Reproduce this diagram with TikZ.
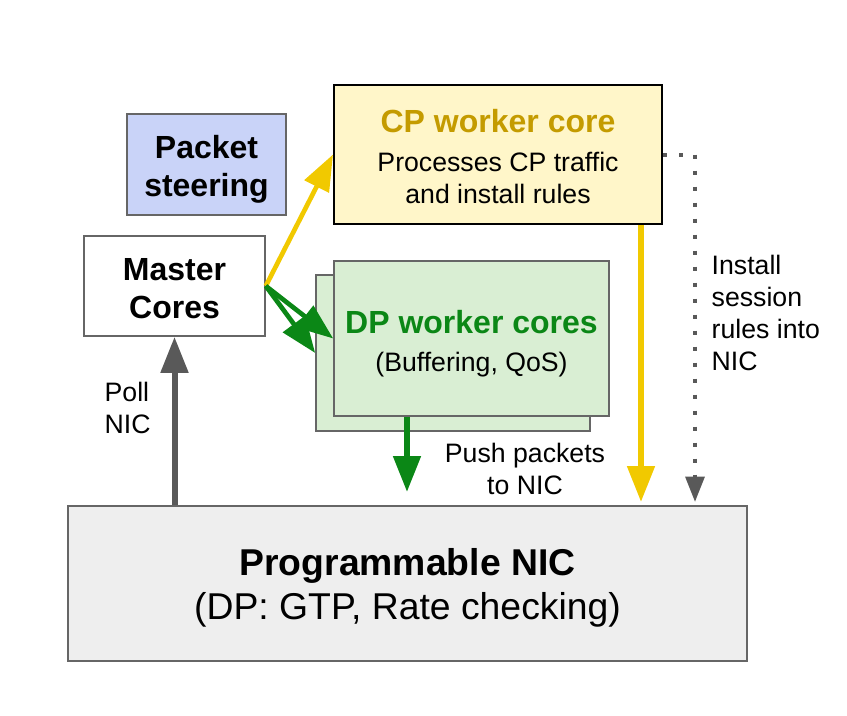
\documentclass[tikz,border=0pt]{standalone}
\usepackage{fontspec}
\setmainfont{Liberation Sans}
\usetikzlibrary{arrows.meta}
\definecolor{steerblue}{HTML}{C9D3F8}
\definecolor{cpfill}{HTML}{FFF6C9}
\definecolor{cpgold}{HTML}{C49B00}
\definecolor{dpfill}{HTML}{D9EED3}
\definecolor{dpgreen}{HTML}{0B8716}
\definecolor{nicfill}{HTML}{EEEEEE}
\definecolor{boxgray}{HTML}{666666}
\definecolor{pollgray}{HTML}{595959}
\definecolor{cpyellow}{HTML}{F1C900}
\begin{document}
\begin{tikzpicture}[x=0.75pt, y=-0.75pt,
  box/.style={rectangle, draw=boxgray, line width=1.2pt, inner sep=0pt},
  boldtxt/.style={font=\fontsize{24}{28.5}\selectfont\bfseries, align=center},
  plaintxt/.style={font=\fontsize{20}{24}\selectfont},
  bigtip/.style={-{Triangle[width=20pt, length=27pt]}},
  smalltip/.style={-{Triangle[width=14pt, length=19pt]}}]
\useasboundingbox (0,0) rectangle (847,715);
\node[box, fill=steerblue, minimum width=119.25pt, minimum height=75.75pt] (steer) at (206.5,164.5){};
\node[boldtxt] (steertxt) at (206.5,169){Packet\\steering};
\node[box, draw=black, line width=1.5pt, fill=cpfill, minimum width=246pt, minimum height=104.25pt] (cp) at (498,154.5){};
\node[boldtxt, text=cpgold] (cptitle) at (498,121){CP worker core};
\node[plaintxt, align=center] (cpbody) at (498,177.5){Processes CP traffic\\and install rules};
\node[box, fill=white, minimum width=135.75pt, minimum height=75pt] (master) at (174.5,286){};
\node[boldtxt] (mastertxt) at (174.5,288.5){Master\\Cores};
\node[box, fill=dpfill, minimum width=205.5pt, minimum height=117pt] (dpback) at (453,353){};
\node[box, fill=dpfill, minimum width=206.25pt, minimum height=116.25pt] (dpfront) at (471.5,338.5){};
\node[boldtxt, text=dpgreen] (dptitle) at (471.5,322){DP worker cores};
\node[plaintxt] (dpbody) at (471.5,364.5){(Buffering, QoS)};
\node[box, fill=nicfill, minimum width=509.25pt, minimum height=116.25pt] (nic) at (407.5,583.5){};
\node[font=\fontsize{28}{33}\selectfont\bfseries] (nictitle) at (407.5,566){Programmable NIC};
\node[font=\fontsize{28}{33}\selectfont] (nicbody) at (407.5,610){(DP: GTP, Rate checking)};
\node[plaintxt, align=left, anchor=west] (polltxt) at (100,407.5){Poll\\NIC};
\node[plaintxt, align=center] (pushtxt) at (525,469){Push packets\\to NIC};
\node[plaintxt, align=left, anchor=west] (ruletxt) at (707,313){Install\\session\\rules into\\NIC};
\coordinate (pushend) at (407,492);
\coordinate (cpend) at (641,502);
\coordinate (ruleend) at (695,502);
\draw[bigtip, pollgray, line width=4.5pt](nic.north -| master) -- (master.south);
\draw[bigtip, cpyellow, line width=3.5pt](master.east) -- (cp.west);
\draw[bigtip, dpgreen, line width=3.5pt](master.east) -- (dpfront.west);
\draw[bigtip, dpgreen, line width=3.5pt](master.east) -- (dpback.west);
\draw[bigtip, dpgreen, line width=4.5pt](dpfront.south -| pushend) -- (pushend);
\draw[bigtip, cpyellow, line width=4.5pt](cp.south -| cpend) -- (cpend);
\draw[smalltip, pollgray, line width=3pt, dash pattern=on 3pt off 9pt](cp.east) -| (ruleend);
\end{tikzpicture}
\end{document}
